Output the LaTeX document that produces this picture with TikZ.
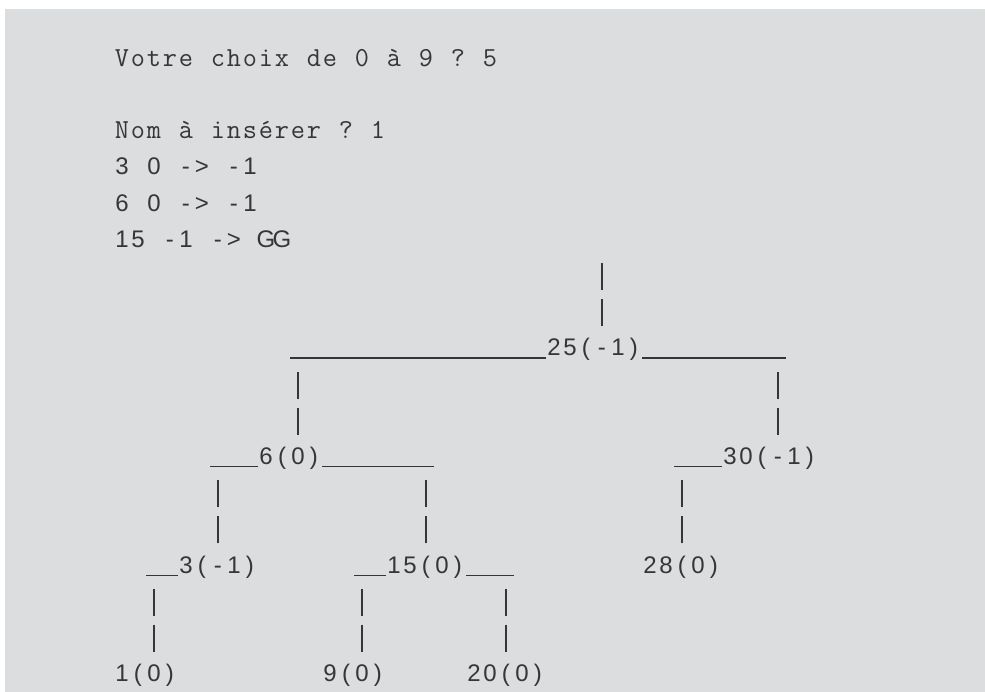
\documentclass[tikz,border=0pt]{standalone}
\usepackage{fontspec}
\newfontfamily\treefont{Liberation Sans}
\definecolor{bggray}{HTML}{DCDDDF}
\definecolor{ink}{HTML}{363636}
\makeatletter
\newcommand\cellrow[1]{\@tfor\cc:=#1\do{\makebox[16pt][c]{\cc}}}
\makeatother
\newcommand\usc{\rule[-2.7pt]{16pt}{1.2pt}}
\newcommand\vbr{\rule[-6.5pt]{1.3pt}{27pt}}
\tikzset{
  txt/.style={anchor=base west, inner sep=0pt, outer sep=0pt, text=ink},
  cour/.style={txt, font=\fontsize{27.5}{30}\ttfamily},
  tree/.style={txt, font=\fontsize{24}{27}\treefont},
}
\newcommand{\cx}[1]{114+16*#1}
\newcommand{\ly}[1]{66.4+36.19*#1}
\begin{document}
\begin{tikzpicture}[x=1pt,y=-1pt]
\useasboundingbox (0,0) rectangle (985,692);
\fill[bggray] (5,9) rectangle (985,692);
% console lines
\node[cour] (l0) at ({\cx{0}},{\ly{0}}) {\cellrow{Votre~choix~de~0~à~9~?~5}};
\node[cour] (l2) at ({\cx{0}},{\ly{2}}) {\cellrow{Nom~à~insérer~?~1}};
\node[tree] (l3) at ({\cx{0}},{\ly{3}}) {\cellrow{3~0~->~-1}};
\node[tree] (l4) at ({\cx{0}},{\ly{4}}) {\cellrow{6~0~->~-1}};
\node[tree] (l5) at ({\cx{0}},{\ly{5}}) {\cellrow{15~-1~->~GG}};
% root
\node[tree] (b6a) at ({\cx{30}},{\ly{6}}) {\cellrow{\vbr}};
\node[tree] (b7a) at ({\cx{30}},{\ly{7}}) {\cellrow{\vbr}};
\node[tree] (n25) at ({\cx{11}},{\ly{8}}) {\cellrow{\usc\usc\usc\usc\usc\usc\usc\usc\usc\usc\usc\usc\usc\usc\usc\usc25(-1)\usc\usc\usc\usc\usc\usc\usc\usc\usc}};
\node[tree] (b9a) at ({\cx{11}},{\ly{9}}) {\cellrow{\vbr}};
\node[tree] (b10a) at ({\cx{11}},{\ly{10}}) {\cellrow{\vbr}};
\node[tree] (b9b) at ({\cx{41}},{\ly{9}}) {\cellrow{\vbr}};
\node[tree] (b10b) at ({\cx{41}},{\ly{10}}) {\cellrow{\vbr}};
% level 2
\node[tree] (n6) at ({\cx{6}},{\ly{11}}) {\cellrow{\usc\usc\usc6(0)\usc\usc\usc\usc\usc\usc\usc}};
\node[tree] (n30) at ({\cx{35}},{\ly{11}}) {\cellrow{\usc\usc\usc30(-1)}};
\node[tree] (b12a) at ({\cx{6}},{\ly{12}}) {\cellrow{\vbr}};
\node[tree] (b13a) at ({\cx{6}},{\ly{13}}) {\cellrow{\vbr}};
\node[tree] (b12b) at ({\cx{19}},{\ly{12}}) {\cellrow{\vbr}};
\node[tree] (b13b) at ({\cx{19}},{\ly{13}}) {\cellrow{\vbr}};
\node[tree] (b12c) at ({\cx{35}},{\ly{12}}) {\cellrow{\vbr}};
\node[tree] (b13c) at ({\cx{35}},{\ly{13}}) {\cellrow{\vbr}};
% level 3
\node[tree] (n3) at ({\cx{2}},{\ly{14}}) {\cellrow{\usc\usc3(-1)}};
\node[tree] (n15) at ({\cx{15}},{\ly{14}}) {\cellrow{\usc\usc15(0)\usc\usc\usc}};
\node[tree] (n28) at ({\cx{33}},{\ly{14}}) {\cellrow{28(0)}};
\node[tree] (b15a) at ({\cx{2}},{\ly{15}}) {\cellrow{\vbr}};
\node[tree] (b16a) at ({\cx{2}},{\ly{16}}) {\cellrow{\vbr}};
\node[tree] (b15b) at ({\cx{15}},{\ly{15}}) {\cellrow{\vbr}};
\node[tree] (b16b) at ({\cx{15}},{\ly{16}}) {\cellrow{\vbr}};
\node[tree] (b15c) at ({\cx{24}},{\ly{15}}) {\cellrow{\vbr}};
\node[tree] (b16c) at ({\cx{24}},{\ly{16}}) {\cellrow{\vbr}};
% leaves
\node[tree] (n1) at ({\cx{0}},{\ly{17}}) {\cellrow{1(0)}};
\node[tree] (n9) at ({\cx{13}},{\ly{17}}) {\cellrow{9(0)}};
\node[tree] (n20) at ({\cx{22}},{\ly{17}}) {\cellrow{20(0)}};
\end{tikzpicture}
\end{document}
